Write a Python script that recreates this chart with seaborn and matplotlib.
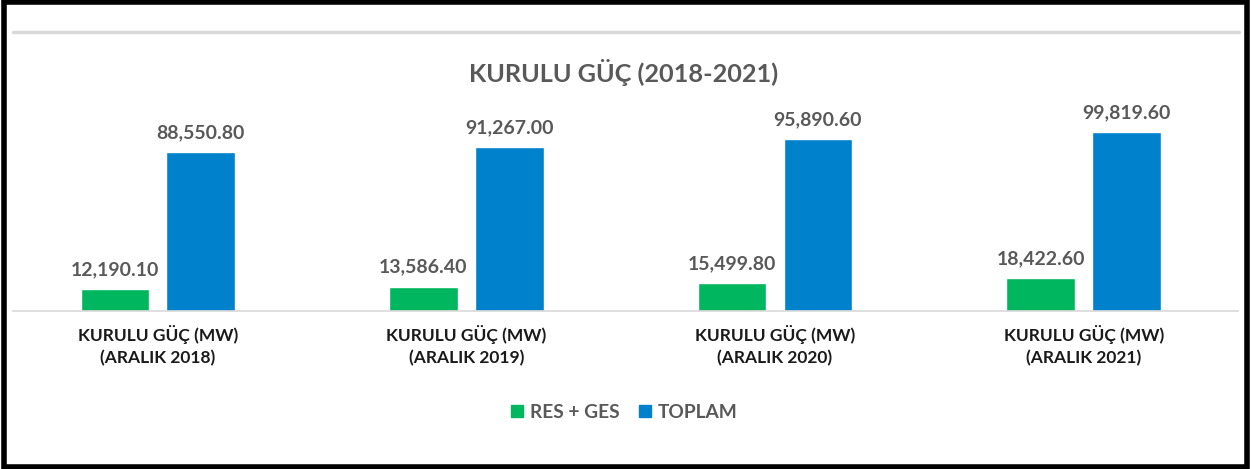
import pandas as pd
import matplotlib.pyplot as plt
import seaborn as sns
from matplotlib.patches import Rectangle
from matplotlib.lines import Line2D

# chart data
categories = ["KURULU GÜÇ (MW)\n(ARALIK 2018)", "KURULU GÜÇ (MW)\n(ARALIK 2019)",
              "KURULU GÜÇ (MW)\n(ARALIK 2020)", "KURULU GÜÇ (MW)\n(ARALIK 2021)"]
series_names = ["RES + GES", "TOPLAM"]
res_ges = [12190.10, 13586.40, 15499.80, 18422.60]
toplam = [88550.80, 91267.00, 95890.60, 99819.60]
colors = ["#00B65E", "#0081CC"]

df = pd.DataFrame({
    "kategori": categories * 2,
    "seri": [series_names[0]] * 4 + [series_names[1]] * 4,
    "deger": res_ges + toplam,
})

sns.set_style("white")
plt.rcParams['font.family'] = ['Lato', 'DejaVu Sans']

W, H = 1251, 469
fig = plt.figure(figsize=(W / 100, H / 100), dpi=100)
ax = fig.add_axes([13 / W, (H - 311) / H, (1238 - 13) / W, 215 / H])

sns.barplot(data=df, x="kategori", y="deger", hue="seri", palette=colors,
            width=0.556, gap=0.2, ax=ax, legend=False, saturation=1)

ax.set_ylim(0, 120000)
ax.set_xlim(-0.469, 3.5)
for c in ax.containers:
    ax.bar_label(c, labels=[f"{v:,.2f}" for v in c.datavalues], padding=8,
                 fontsize=14, fontweight='bold', color='#595959')

ax.set_xlabel("")
ax.set_ylabel("")
ax.set_yticks([])
ax.tick_params(axis='x', length=0, pad=10)
for lbl in ax.get_xticklabels():
    lbl.set_fontsize(12.5)
    lbl.set_fontweight('bold')
    lbl.set_color('#1a1a1a')
    lbl.set_linespacing(1.45)
for s in ["top", "left", "right"]:
    ax.spines[s].set_visible(False)
ax.spines["bottom"].set_color("#d9d9d9")
ax.spines["bottom"].set_linewidth(1.2)

fig.text(624 / W, (H - 73) / H, "KURULU GÜÇ (2018-2021)", ha='center', va='center',
         fontsize=18.2, fontweight='bold', color='#595959')

handles = [Line2D([], [], marker='s', linestyle='', markersize=8, color=col) for col in colors]
fig.legend(handles, series_names, loc='center', bbox_to_anchor=(624 / W, (H - 412) / H),
           ncol=2, frameon=False, handlelength=0.7, handletextpad=0.3, columnspacing=1.0,
           prop={'weight': 'bold', 'size': 13.8}, labelcolor='#595959')

# top separator line and outer frame
fig.add_artist(Line2D([13 / W, 1239 / W], [(H - 32) / H] * 2, color='#d9d9d9', linewidth=2.5))
fig.add_artist(Rectangle((0.003, 0.004), 0.994, 0.992, transform=fig.transFigure,
                         fill=False, edgecolor='black', linewidth=4))

fig.savefig("out.png", dpi=100)
